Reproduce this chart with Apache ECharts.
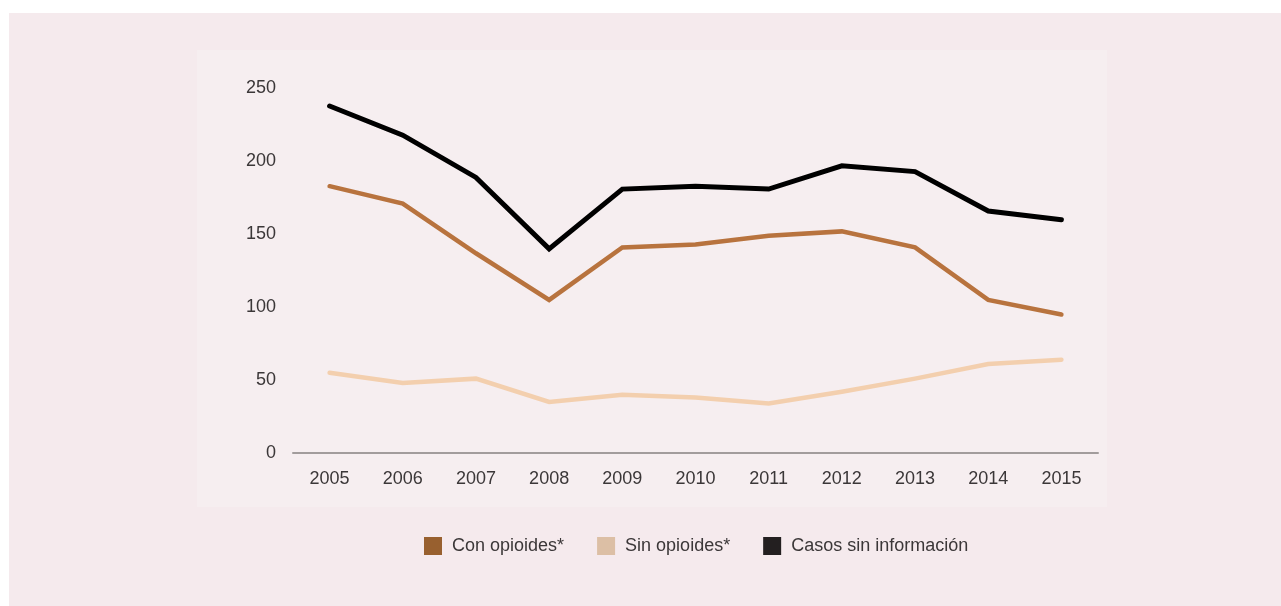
<!DOCTYPE html>
<html>
<head>
<meta charset="utf-8">
<script src="https://cdn.jsdelivr.net/npm/echarts@6/dist/echarts.min.js"></script>
<style>
  html, body { margin: 0; padding: 0; background: #ffffff; }
  #chart { width: 1281px; height: 606px; }
</style>
</head>
<body>
<div id="chart"></div>
<script>
// Years on the horizontal axis
const years = ['2005', '2006', '2007', '2008', '2009', '2010', '2011', '2012', '2013', '2014', '2015'];

// Cases per year
const conOpioides = [183, 171, 137, 105, 141, 143, 149, 152, 141, 105, 95];
const sinOpioides = [55, 48, 51, 35, 40, 38, 34, 42, 51, 61, 64];
const sinInformacion = [238, 218, 189, 140, 181, 183, 181, 197, 193, 166, 160];

// Series names shown in the legend
const seriesNames = ['Con opioides*', 'Sin opioides*', 'Casos sin información'];

// Vertical axis range
const yMin = 0;
const yMax = 250;
const yStep = 50;

const font = '"Liberation Sans", Helvetica, Arial, sans-serif';
const textColor = '#3b3738';

const chart = echarts.init(document.getElementById('chart'), null, { renderer: 'canvas' });

chart.setOption({
  backgroundColor: '#ffffff',
  animation: false,
  graphic: [
    {
      type: 'rect',
      z: -10,
      silent: true,
      shape: { x: 9, y: 13, width: 1272, height: 593 },
      style: { fill: '#f5eaed' }
    },
    {
      type: 'rect',
      z: -9,
      silent: true,
      shape: { x: 197, y: 50, width: 910, height: 457 },
      style: { fill: '#f6eef0' }
    }
  ],
  grid: {
    left: 293,
    right: 183,
    top: 88.5,
    bottom: 153,
    containLabel: false
  },
  legend: {
    left: 424,
    top: 537,
    padding: 0,
    icon: 'rect',
    itemWidth: 18,
    itemHeight: 18,
    itemGap: 33,
    selectedMode: false,
    textStyle: {
      fontFamily: font,
      fontSize: 18,
      color: textColor,
      padding: [0, 0, 0, 5]
    },
    data: [
      { name: seriesNames[0], itemStyle: { color: '#98602f' } },
      { name: seriesNames[1], itemStyle: { color: '#dcbfa5' } },
      { name: seriesNames[2], itemStyle: { color: '#231f20' } }
    ]
  },
  xAxis: {
    type: 'category',
    data: years,
    boundaryGap: true,
    axisLine: { show: true, lineStyle: { color: '#a29c9c', width: 2 } },
    axisTick: { show: false },
    axisLabel: {
      margin: 17,
      fontFamily: font,
      fontSize: 18,
      color: textColor
    },
    splitLine: { show: false }
  },
  yAxis: {
    type: 'value',
    min: yMin,
    max: yMax,
    interval: yStep,
    axisLine: { show: false },
    axisTick: { show: false },
    splitLine: { show: false },
    axisLabel: {
      margin: 17,
      fontFamily: font,
      fontSize: 18,
      color: textColor
    }
  },
  series: [
    {
      name: seriesNames[0],
      type: 'line',
      data: conOpioides,
      showSymbol: false,
      symbol: 'none',
      z: 3,
      lineStyle: { color: '#b8733e', width: 4.5, cap: 'round', join: 'miter' },
      itemStyle: { color: '#98602f' }
    },
    {
      name: seriesNames[1],
      type: 'line',
      data: sinOpioides,
      showSymbol: false,
      symbol: 'none',
      z: 2,
      lineStyle: { color: '#f3cfae', width: 4.5, cap: 'round', join: 'miter' },
      itemStyle: { color: '#dcbfa5' }
    },
    {
      name: seriesNames[2],
      type: 'line',
      data: sinInformacion,
      showSymbol: false,
      symbol: 'none',
      z: 4,
      lineStyle: { color: '#000000', width: 5, cap: 'round', join: 'miter' },
      itemStyle: { color: '#231f20' }
    }
  ]
});
</script>
</body>
</html>
